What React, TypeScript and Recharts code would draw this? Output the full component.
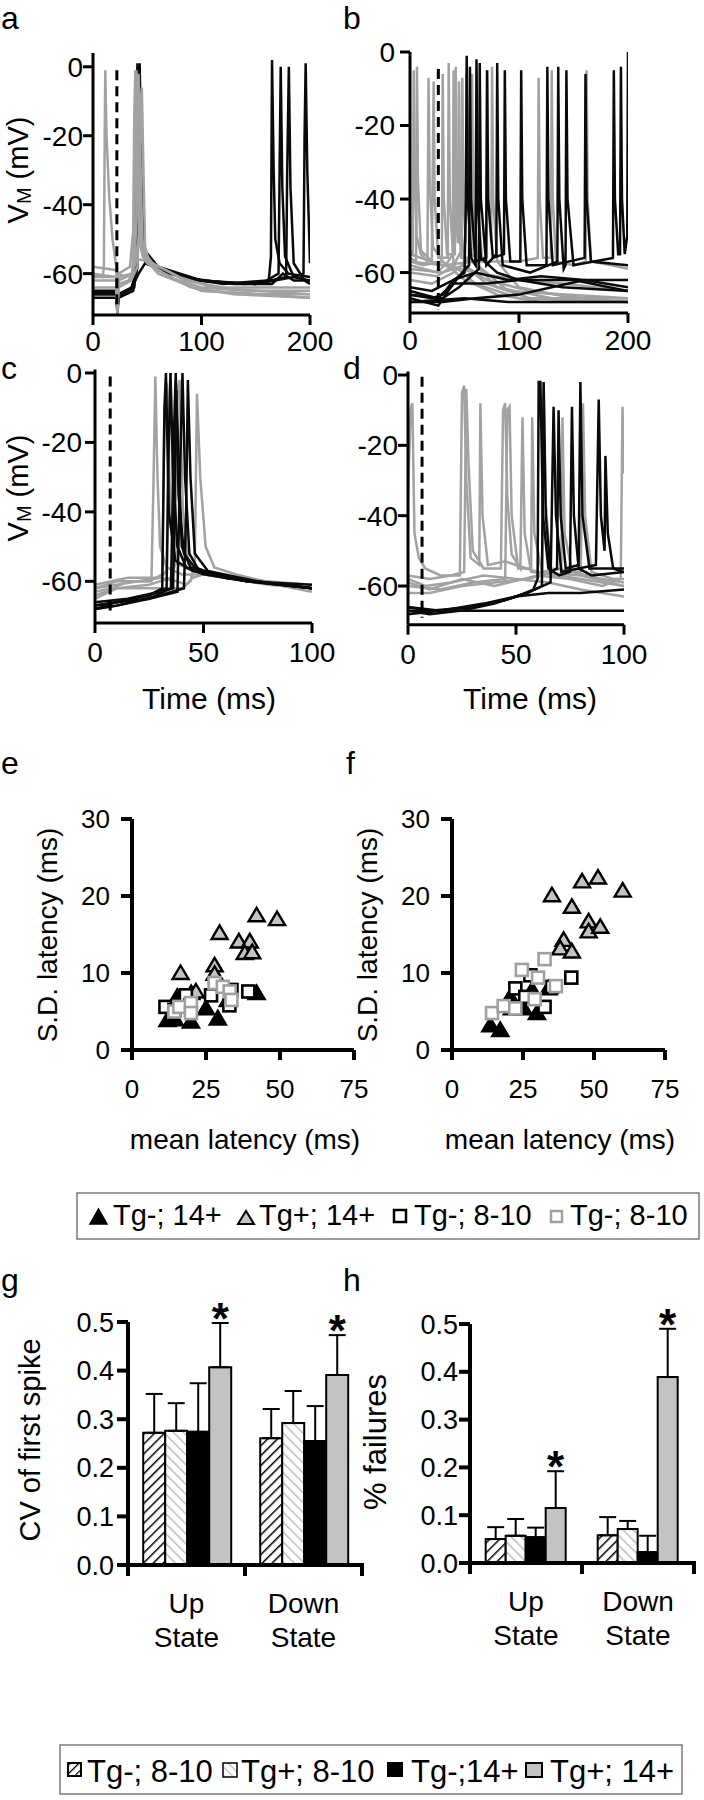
import React from 'react';
import {
  LineChart, Line, XAxis, YAxis, ReferenceLine,
  ScatterChart, Scatter, BarChart, Bar, ErrorBar, LabelList,
} from 'recharts';

const FONT = '"Liberation Sans", Arial, Helvetica, sans-serif';
const INK = '#000000';
const TRACE_BLACK = '#0a0a0a';
const TRACE_GRAY = '#a2a2a2';
const FILL_GRAY = '#c3c3c3';
const SQUARE_GRAY = '#a0a0a0';

type Trace = number[][];

// ---------------- voltage traces ----------------
const V_TICKS = [0, -20, -40, -60];
const T_TICKS_LONG = [0, 100, 200];
const T_TICKS_SHORT = [0, 50, 100];

const STIM_A = 22; const STIM_A_V = [-1, -70.5];
const STIM_B = 26; const STIM_B_V = [-4.6, -70];
const STIM_C = 7; const STIM_C_V = [-1, -69];
const STIM_D = 6.5; const STIM_D_V = [-0.5, -69];

const A_BLACK: Trace[] = [
  [[0,-66],[21.5,-66],[22.5,-72],[23.5,-67],[34,-65],[38,-62],[39.5,-40],[40.5,-5],[41,1],[42,-10],[43,-45],[45,-52],[50,-56],[70,-60],[100,-62],[140,-63],[162,-62],[164,-55],[165,2],[166.5,-30],[168,-50],[172,-57],[180,-60],[200,-61]],
  [[0,-65],[21.5,-65],[22.5,-70],[23.5,-66],[36,-64],[40,-58],[41,-20],[42,0],[43,-30],[44.5,-50],[48,-56],[80,-61],[120,-63],[160,-62],[171,-60],[172,-30],[173,0],[174.5,-35],[177,-55],[185,-61],[200,-62]],
  [[0,-67],[21.5,-67],[22.5,-70],[23.5,-67],[37,-65],[41,-58],[42,-10],[43,0],[44,-30],[46,-52],[52,-57],[90,-62],[150,-63],[178,-61],[179,-30],[180.5,0],[182,-35],[185,-57],[195,-62],[200,-63]],
  [[0,-66],[21.5,-66],[22.5,-71],[23.5,-66],[38,-64],[41,-55],[42,-5],[43,1],[44.5,-35],[47,-53],[60,-58],[100,-62],[150,-63],[185,-61],[194,-60],[195,-20],[196,1],[197.5,-30],[200,-57]],
  [[0,-65.5],[21.5,-65.5],[22.5,-69],[23.5,-66],[36,-64],[42,-60],[48,-57],[80,-61],[130,-63],[165,-63],[175,-60],[185,-62],[200,-62]],
];
const A_GRAY: Trace[] = [
  [[0,-60],[9,-61],[10,-58],[10.8,-20],[11.3,-1],[12.5,-20],[15,-38],[18,-50],[21,-57],[22,-59],[22.6,-68],[23.4,-60],[30,-61],[36,-60],[40,-56],[45,-56],[55,-57],[80,-61],[110,-64],[150,-65],[200,-66]],
  [[0,-60],[21.5,-61],[22.5,-70],[23.5,-62],[30,-61],[36,-60],[38,-50],[39,-20],[40,-1],[41.5,-20],[43,-45],[46,-55],[50,-57],[70,-61],[100,-64],[140,-65],[200,-65]],
  [[0,-62],[21.5,-62],[22.5,-72],[23.5,-63],[33,-62],[38,-58],[40,-45],[41,-15],[42,-2],[43.5,-25],[45.5,-50],[49,-56],[60,-59],[90,-64],[130,-66],[200,-67]],
  [[0,-64],[21.5,-64],[22.5,-71],[23.5,-64],[35,-62],[41,-58],[43,-40],[44,-10],[45,-6],[46.5,-30],[48,-52],[52,-57],[70,-61],[100,-65],[150,-66],[200,-67]],
  [[0,-58],[21.5,-59],[22.5,-66],[23.5,-60],[34,-58],[37,-48],[38,-15],[39,-1],[40.5,-20],[42,-44],[45,-53],[55,-57],[85,-62],[120,-64],[200,-64]],
  [[0,-61],[21.5,-61],[22.5,-68],[23.5,-61],[36,-60],[39,-56],[42,-50],[46,-55],[60,-60],[100,-65],[160,-66],[200,-66]],
];

const B_GRAY: Trace[] = [
  [[0,-54],[2.6,-55],[3.4,-5],[4.3,-30],[6,-50],[10,-55],[16,-57],[17,-7],[18,-35],[21,-53],[30,-57],[50,-62],[80,-66],[120,-68],[200,-68]],
  [[0,-56],[5.6,-57],[6.4,-4],[7.3,-35],[10,-54],[20,-57],[21.7,-8],[22.6,-40],[26,-56],[34.6,-56],[35.5,-3],[36.5,-40],[40,-58],[60,-63],[100,-67],[200,-68]],
  [[0,-58],[25,-60],[35,-57],[39.2,-55],[40,-5],[41,-40],[44,-52],[45,-8],[46,-45],[50,-58],[70,-63],[110,-67],[200,-67]],
  [[0,-60],[25,-61],[40,-58],[47.2,-54],[48,-7],[49,-40],[51,-52],[52,-6],[53,-40],[57,-57],[80,-64],[130,-67],[200,-68]],
  [[0,-62],[20,-63],[40,-60],[55,-56],[60,-55],[61,-5],[62,-40],[66,-56],[70,-56],[70.8,-5],[71.8,-40],[74.5,-52],[75.3,-4],[76.3,-40],[80,-57],[100,-64],[150,-67],[200,-68]],
  [[0,-57],[30,-58],[60,-57],[100,-57],[117.2,-56],[118,-7],[119,-40],[122,-56],[129.2,-56],[130,-5],[131,-40],[134,-57],[150,-58],[161.2,-57],[162,-5],[163,-40],[166,-57],[185,-58],[200,-59]],
  [[0,-57],[12,-58],[29.2,-57],[30,-6],[31,-40],[34,-55],[41.2,-55],[42,-4],[43,-40],[47,-56],[56.2,-56],[57,-6],[58,-40],[62,-58],[90,-65],[200,-67]],
  [[0,-55],[30,-58],[60,-60],[100,-62],[140,-63],[200,-65]],
  [[0,-59],[30,-60],[50,-58],[70,-62],[110,-65],[160,-67],[200,-67]],
];
const B_BLACK: Trace[] = [
  [[0,-66],[20,-67],[30,-66],[40,-62],[50,-60],[51.3,-40],[52,-1],[53,-40],[56,-56],[60.2,-58],[61,-2],[62,-40],[65,-56],[80,-60],[100,-62],[140,-64],[200,-65]],
  [[0,-67],[26,-69],[35,-65],[45,-61],[54.2,-58],[55,-4],[56,-40],[60,-57],[69.9,-56],[70.7,-5],[71.7,-40],[76,-56],[86.2,-55],[87,-5],[88,-40],[92,-57],[101.2,-57],[102,-5],[103,-40],[107,-58],[125.2,-58],[126,-4],[127,-40],[131,-58],[160.2,-56],[161,-6],[162,-40],[166,-57],[200,-58]],
  [[0,-66],[30,-67],[45,-64],[63.2,-59],[64,-3],[65,-40],[70,-58],[79.2,-55],[80,-3],[81,-40],[85,-58],[110,-60],[135.2,-57],[136,-4],[137,-40],[141,-59],[142.7,-58],[143.5,-5],[144.5,-40],[150,-58],[186.2,-56],[187,-5],[188,-40],[191,-55],[192.7,-55],[193.5,-4],[194.5,-40],[197,-55],[199.3,-50],[200,0]],
  [[0,-68],[30,-68],[60,-67],[100,-66],[130,-64],[160,-62],[200,-62]],
  [[0,-65],[25,-67],[40,-63],[70,-63],[100,-62],[150,-62],[200,-65]],
  [[0,-68],[50,-67],[90,-68],[130,-68],[200,-68]],
  [[0,-64],[20,-65],[40,-62],[60,-60],[90,-62],[120,-61],[160,-62],[200,-64]],
];

const C_GRAY: Trace[] = [
  [[0,-63],[8,-62],[15,-60],[26,-60],[27,-30],[27.8,-1],[28.8,-30],[30,-50],[33,-56],[40,-58],[50,-58],[70,-60],[100,-62]],
  [[0,-62],[10,-61],[20,-60],[30,-59],[33,-57],[34,-10],[34.8,0],[36,-40],[38,-55],[45,-57],[60,-59],[80,-61],[100,-62]],
  [[0,-64],[10,-62],[25,-61],[35,-59],[37,-55],[38,-5],[39,-2],[40.5,-40],[43,-55],[50,-57],[75,-60],[100,-63]],
  [[0,-65],[10,-62],[25,-62],[40,-62],[44,-60],[46,-55],[47,-6],[48.5,-30],[51,-50],[55,-56],[65,-58],[85,-61],[100,-62]],
  [[0,-62],[10,-60],[25,-60],[31,-58],[32,-12],[33,-3],[34.5,-35],[37,-54],[45,-57],[60,-59],[100,-61]],
  [[0,-61],[15,-59],[30,-59],[38,-60],[42,-61],[45,-59],[50,-58],[70,-60],[100,-62]],
];
const C_BLACK: Trace[] = [
  [[0,-68],[10,-66],[25,-64],[33,-62],[34,-20],[34.8,0],[36,-30],[38,-50],[42,-56],[50,-58],[70,-60],[100,-62]],
  [[0,-67],[10,-66],[25,-65],[35,-62],[36.5,-15],[37.2,0],[38.5,-35],[41,-52],[46,-56],[60,-59],[100,-62]],
  [[0,-68],[10,-67],[25,-65],[38,-63],[39.5,-20],[40.3,0],[41.5,-30],[43.5,-52],[48,-57],[70,-60],[100,-62]],
  [[0,-67],[10,-66],[25,-64],[31,-62],[32,-10],[32.7,0],[34,-40],[37,-54],[45,-57],[70,-60],[100,-61]],
  [[0,-68],[10,-67],[30,-64],[41,-62],[42,-40],[42.8,-2],[44,-30],[46,-52],[52,-57],[75,-60],[100,-62]],
  [[0,-66],[15,-65],[30,-63],[36,-62],[37.5,-5],[38.5,-25],[40,-50],[44,-56],[60,-59],[100,-62]],
];

const D_GRAY: Trace[] = [
  [[0,-35],[1.2,-10],[2,-8],[3,-45],[5,-52],[8,-55],[15,-57],[24,-57],[25,-5],[26,-3],[27,-30],[29,-52],[33,-54],[33.5,-8],[34.5,-40],[37,-54],[45,-53],[60,-56],[80,-57],[100,-60]],
  [[0,-57],[10,-58],[20,-57],[26,-56],[27,-4],[28,-25],[30,-50],[35,-55],[43,-55],[44,-10],[45,-8],[46,-35],[48,-51],[52,-55],[53,-12],[54,-45],[57,-56],[70,-57],[100,-60]],
  [[0,-60],[15,-61],[30,-59],[45,-58],[46,-10],[47,-9],[48,-40],[51,-55],[57,-55],[57.5,-12],[58.5,-45],[62,-56],[71,-55],[71.5,-12],[72.5,-45],[76,-56],[90,-58],[100,-59]],
  [[0,-62],[10,-62],[25,-60],[40,-59],[55,-58],[62,-57],[62.8,-3],[63.6,-35],[66,-55],[80,-56],[81,-8],[82,-40],[85,-56],[95,-58],[100,-58]],
  [[0,-59],[10,-61],[25,-58],[40,-60],[60,-57],[75,-58],[90,-60],[98.5,-58],[99.3,-9],[100,-28]],
  [[0,-58],[8,-60],[20,-59],[35,-57],[50,-58],[65,-59],[80,-61],[100,-63]],
];
const D_BLACK: Trace[] = [
  [[0,-67],[10,-68],[25,-67],[40,-65],[50,-63],[58,-61],[60,-58],[60.5,-2],[61.3,-2],[62.5,-40],[65,-55],[70,-57],[75,-56],[75.9,-9],[76.8,-40],[79,-55],[85,-57],[100,-56]],
  [[0,-66],[10,-67],[30,-66],[45,-64],[55,-62],[62,-60],[62.8,-2],[63.8,-40],[66,-56],[69,-55],[69.7,-10],[70.7,-40],[73,-55],[79,-54],[79.8,-2],[80.8,-40],[84,-55],[100,-55]],
  [[0,-68],[15,-67],[30,-66],[45,-64],[55,-62],[66,-59],[67.4,-9],[68.5,-40],[71,-56],[87,-54],[88.3,-7],[89.3,-40],[91,-50],[91.4,-23],[92.5,-45],[95,-55],[100,-56]],
  [[0,-67],[20,-67],[40,-67],[60,-67],[80,-67],[100,-67]],
  [[0,-66],[15,-67],[35,-65],[50,-63],[65,-62],[80,-62],[100,-61]],
];

// ---------------- latency scatter (mean, S.D.) ----------------
const LAT_TICKS = [0, 25, 50, 75];
const SD_TICKS = [0, 10, 20, 30];
const E_TGN_14 = [[12.0,3.9],[14.5,4.0],[15.3,6.9],[20.0,7.4],[19.9,3.7],[25.0,5.4],[29.0,4.1],[32.4,6.5],[42.1,7.4]];
const E_TGP_14 = [[16.4,10.0],[21.6,7.6],[27.9,11.0],[27.9,9.9],[29.6,15.2],[36.1,14.1],[39.8,14.1],[38.1,12.6],[40.6,12.7],[42.1,17.5],[49.0,17.0]];
const E_TGN_810 = [[11.3,5.6],[14.3,5.2],[18.2,7.1],[19.7,5.8],[26.7,7.1],[33.6,7.8],[32.9,5.8],[39.3,7.6]];
const E_TGP_810 = [[14.3,5.0],[16.0,5.6],[19.9,6.1],[19.9,4.8],[27.9,8.7],[30.7,8.2],[33.0,7.6],[33.6,6.5]];
const F_TGN_14 = [[13.5,3.2],[17.0,2.6],[20.5,6.9],[21.1,5.4],[25.2,5.4],[28.2,7.8],[29.9,4.8],[34.0,8.0]];
const F_TGP_14 = [[35.2,20.1],[45.8,21.9],[51.4,22.4],[60.1,20.7],[42.2,18.6],[48.1,16.7],[48.1,15.4],[52.2,16.0],[39.3,14.3],[38.1,13.2],[42.2,12.8]];
const F_TGN_810 = [[22.3,8.0],[27.6,9.7],[25.8,6.9],[32.6,5.6],[35.2,8.2],[42.0,9.4]];
const F_TGP_810 = [[14.1,4.8],[18.2,5.7],[22.3,5.4],[24.6,10.4],[30.3,9.4],[32.6,11.8],[29.1,6.6],[36.6,8.3]];

// ---------------- bar charts ----------------
const BAR_CATS = ['Up State', 'Down State'];
const BAR_TICKS = [0, 0.1, 0.2, 0.3, 0.4, 0.5];
const G_TGN_810 = [0.272, 0.261]; const G_TGN_810_HI = [0.352, 0.321];
const G_TGP_810 = [0.276, 0.292]; const G_TGP_810_HI = [0.333, 0.358];
const G_TGN_14 = [0.274, 0.255];  const G_TGN_14_HI = [0.374, 0.327];
const G_TGP_14 = [0.407, 0.391];  const G_TGP_14_HI = [0.498, 0.473];
const G_STAR = [true, true];
const H_TGN_810 = [0.050, 0.058]; const H_TGN_810_HI = [0.075, 0.096];
const H_TGP_810 = [0.057, 0.071]; const H_TGP_810_HI = [0.092, 0.088];
const H_TGN_14 = [0.054, 0.023];  const H_TGN_14_HI = [0.074, 0.057];
const H_TGP_14 = [0.115, 0.389];  const H_TGP_14_HI = [0.192, 0.490];
const H_STAR = [true, true];

function buildBarRows(means: number[][], his: number[][], stars: boolean[]) {
  return BAR_CATS.map((cat, i) => {
    const row: any = { cat, star: stars[i] };
    means.forEach((m, k) => {
      row[`v${k}`] = m[i];
      row[`e${k}`] = [0, his[k][i] - m[i]];
      row[`hi${k}`] = his[k][i];
    });
    return row;
  });
}
const G_ROWS = buildBarRows([G_TGN_810, G_TGP_810, G_TGN_14, G_TGP_14], [G_TGN_810_HI, G_TGP_810_HI, G_TGN_14_HI, G_TGP_14_HI], G_STAR);
const H_ROWS = buildBarRows([H_TGN_810, H_TGP_810, H_TGN_14, H_TGP_14], [H_TGN_810_HI, H_TGP_810_HI, H_TGN_14_HI, H_TGP_14_HI], H_STAR);

// ---------------- helpers ----------------
const toPoints = (tr: Trace) => tr.map(([t, v]) => ({ t, v }));
const toXY = (arr: number[][]) => arr.map(([x, y]) => ({ x, y }));
const axisStroke = (w: number) => ({ stroke: INK, strokeWidth: w });

function TracePanel(props: any) {
  const { left, top, width, height, margin, xDomain, xTicks, yDomain, stimT, stimV,
    black, gray, grayFirst, yWidth, xHeight, yTickMargin, xTickMargin } = props;
  const tickFont = { fill: INK, fontSize: 28, fontFamily: FONT };
  const blackLines = black.map((tr: Trace, i: number) => (
    <Line key={`k${i}`} name={`k${i}`} data={toPoints(tr)} dataKey="v" type="linear" stroke={TRACE_BLACK}
      strokeWidth={2.5} dot={false} activeDot={false} isAnimationActive={false} />
  ));
  const grayLines = gray.map((tr: Trace, i: number) => (
    <Line key={`g${i}`} name={`g${i}`} data={toPoints(tr)} dataKey="v" type="linear" stroke={TRACE_GRAY}
      strokeWidth={2.5} dot={false} activeDot={false} isAnimationActive={false} />
  ));
  return (
    <div style={{ position: 'absolute', left, top, width, height }}>
      <LineChart width={width} height={height} margin={margin}>
        <XAxis type="number" dataKey="t" domain={xDomain} ticks={xTicks} interval={0} allowDataOverflow
          height={xHeight} tickSize={10} tickMargin={xTickMargin} axisLine={axisStroke(3)} tickLine={axisStroke(3)} tick={tickFont} />
        <YAxis type="number" dataKey="v" domain={yDomain} ticks={V_TICKS} interval={0} allowDataOverflow
          width={yWidth} tickSize={10} tickMargin={yTickMargin} axisLine={axisStroke(3)} tickLine={axisStroke(3)} tick={tickFont} />
        {grayFirst ? grayLines : blackLines}
        {grayFirst ? blackLines : grayLines}
        <ReferenceLine segment={[{ x: stimT, y: stimV[0] }, { x: stimT, y: stimV[1] }]} stroke={INK} strokeWidth={3} strokeDasharray="10 6" />
      </LineChart>
    </div>
  );
}

const triShape = (fill: string) => (p: any) => {
  const { cx, cy } = p;
  if (cx == null || cy == null) return <g />;
  return <polygon points={`${cx},${cy - 7.5} ${cx - 8},${cy + 6} ${cx + 8},${cy + 6}`} fill={fill} stroke={INK} strokeWidth={2.4} />;
};
const squareShape = (stroke: string) => (p: any) => {
  const { cx, cy } = p;
  if (cx == null || cy == null) return <g />;
  return <rect x={cx - 6} y={cy - 6} width={12} height={12} fill="#ffffff" stroke={stroke} strokeWidth={2.6} />;
};

function ScatterPanel(props: any) {
  const { left, top, width, height, margin, groups } = props;
  const tickFont = { fill: INK, fontSize: 26, fontFamily: FONT };
  return (
    <div style={{ position: 'absolute', left, top, width, height }}>
      <ScatterChart width={width} height={height} margin={margin}>
        <XAxis type="number" dataKey="x" domain={[0, 75]} ticks={LAT_TICKS} interval={0} allowDataOverflow
          height={50} tickSize={10} tickMargin={20} axisLine={axisStroke(4)} tickLine={axisStroke(4)} tick={tickFont} />
        <YAxis type="number" dataKey="y" domain={[0, 30]} ticks={SD_TICKS} interval={0} allowDataOverflow
          width={80} tickSize={11} tickMargin={11} axisLine={axisStroke(4)} tickLine={axisStroke(4)} tick={tickFont} />
        {groups.map((g: any) => (
          <Scatter key={g.name} name={g.name} data={toXY(g.data)} shape={g.shape} isAnimationActive={false} />
        ))}
      </ScatterChart>
    </div>
  );
}

function makeCatTick(half: number, count: number) {
  return (p: any) => {
    const { x, y, payload, index } = p;
    const parts = String(payload && payload.value != null ? payload.value : '').split(' ');
    return (
      <g>
        <line x1={x - half} x2={x - half} y1={y - 2} y2={y + 11} stroke={INK} strokeWidth={4} />
        {index === count - 1 ? <line x1={x + half} x2={x + half} y1={y - 2} y2={y + 11} stroke={INK} strokeWidth={4} /> : null}
        <text x={x} y={y + 48} textAnchor="middle" fontSize={28} fontFamily={FONT} fill={INK}>{parts[0]}</text>
        <text x={x} y={y + 82} textAnchor="middle" fontSize={28} fontFamily={FONT} fill={INK}>{parts.slice(1).join(' ')}</text>
      </g>
    );
  };
}

function makeStar(rows: any[]) {
  return (p: any) => {
    const vb = p.viewBox || p;
    const x = Number(vb.x), y = Number(vb.y), w = Number(vb.width), h = Number(vb.height);
    let row = typeof p.index === 'number' ? rows[p.index] : undefined;
    if (!row) row = rows.find((r) => r.hi3 === p.value);
    if (!row || !row.star || !isFinite(h) || h <= 0) return <g />;
    const errY = y + h - row.hi3 * (h / row.v3);
    return (
      <text x={x + w / 2} y={errY + 11} textAnchor="middle" fontSize={44} fontWeight="bold" fontFamily={FONT} fill={INK}>*</text>
    );
  };
}

function BarPanel(props: any) {
  const { id, left, top, width, height, margin, rows, gap, yTickMargin } = props;
  const yWidth = 70;
  const plotW = width - margin.left - margin.right - yWidth;
  const half = plotW / (2 * rows.length);
  const tickFont = { fill: INK, fontSize: 27, fontFamily: FONT };
  const eb = (k: number) => <ErrorBar dataKey={`e${k}`} width={8.5} strokeWidth={2} stroke={INK} direction="y" />;
  return (
    <div style={{ position: 'absolute', left, top, width, height }}>
      <BarChart width={width} height={height} margin={margin} data={rows} barCategoryGap={gap} barGap={0}>
        <defs>
          <pattern id={`hb-${id}`} patternUnits="userSpaceOnUse" width={7} height={7} patternTransform="rotate(45)">
            <rect width={7} height={7} fill="#ffffff" />
            <line x1={0} y1={0} x2={0} y2={7} stroke="#000000" strokeWidth={3} />
          </pattern>
          <pattern id={`hg-${id}`} patternUnits="userSpaceOnUse" width={7} height={7} patternTransform="rotate(-45)">
            <rect width={7} height={7} fill="#ffffff" />
            <line x1={0} y1={0} x2={0} y2={7} stroke="#bdbdbd" strokeWidth={3} />
          </pattern>
        </defs>
        <XAxis dataKey="cat" type="category" interval={0} height={30} tickSize={0} tickMargin={0}
          axisLine={axisStroke(4)} tickLine={false} tick={makeCatTick(half, rows.length)} />
        <YAxis type="number" domain={[0, 0.5]} ticks={BAR_TICKS} interval={0} allowDataOverflow width={yWidth}
          tickSize={11} tickMargin={yTickMargin} tickFormatter={(v: number) => v.toFixed(1)}
          axisLine={axisStroke(4)} tickLine={axisStroke(4)} tick={tickFont} />
        <Bar dataKey="v0" fill={`url(#hb-${id})`} stroke={INK} strokeWidth={2} isAnimationActive={false}>{eb(0)}</Bar>
        <Bar dataKey="v1" fill={`url(#hg-${id})`} stroke={INK} strokeWidth={2} isAnimationActive={false}>{eb(1)}</Bar>
        <Bar dataKey="v2" fill="#000000" stroke={INK} strokeWidth={2} isAnimationActive={false}>{eb(2)}</Bar>
        <Bar dataKey="v3" fill={FILL_GRAY} stroke={INK} strokeWidth={2} isAnimationActive={false}>
          {eb(3)}
          <LabelList dataKey="hi3" content={makeStar(rows)} />
        </Bar>
      </BarChart>
    </div>
  );
}

function Overlay() {
  const t = { fontFamily: FONT, fill: INK } as any;
  const letter = (s: string, x: number, y: number) => <text x={x} y={y} fontSize={32} {...t}>{s}</text>;
  const vm = (cx: number, cy: number) => (
    <text x={cx} y={cy} transform={`rotate(-90 ${cx} ${cy})`} textAnchor="middle" dominantBaseline="central" fontSize={29} {...t}>
      V<tspan fontSize={20} dy={6}>M</tspan><tspan dy={-6}> (mV)</tspan>
    </text>
  );
  const rot = (s: string, cx: number, cy: number, fs: number) => (
    <text x={cx} y={cy} transform={`rotate(-90 ${cx} ${cy})`} textAnchor="middle" dominantBaseline="central" fontSize={fs} {...t}>{s}</text>
  );
  const mid = (s: string, cx: number, y: number, fs: number) => (
    <text x={cx} y={y} textAnchor="middle" fontSize={fs} {...t}>{s}</text>
  );
  const lt = (s: string, x: number, y: number, fs: number) => <text x={x} y={y} fontSize={fs} {...t}>{s}</text>;
  return (
    <svg width={704} height={1800} style={{ position: 'absolute', left: 0, top: 0, pointerEvents: 'none' }}>
      <defs>
        <pattern id="lg-hb" patternUnits="userSpaceOnUse" width={6} height={6} patternTransform="rotate(45)">
          <rect width={6} height={6} fill="#ffffff" />
          <line x1={0} y1={0} x2={0} y2={6} stroke="#000000" strokeWidth={2.5} />
        </pattern>
        <pattern id="lg-hg" patternUnits="userSpaceOnUse" width={6} height={6} patternTransform="rotate(-45)">
          <rect width={6} height={6} fill="#ffffff" />
          <line x1={0} y1={0} x2={0} y2={6} stroke="#bdbdbd" strokeWidth={2.5} />
        </pattern>
      </defs>
      {letter('a', 1, 29)}
      {letter('b', 343, 29)}
      {letter('c', 1, 379)}
      {letter('d', 343, 379)}
      {letter('e', 1, 774)}
      {letter('f', 346, 774)}
      {letter('g', 1, 1291)}
      {letter('h', 343, 1291)}
      {vm(18, 170)}
      {vm(18, 488)}
      {mid('Time (ms)', 209, 709, 30)}
      {mid('Time (ms)', 530, 709, 30)}
      {rot('S.D. latency (ms)', 47, 935, 28)}
      {rot('S.D. latency (ms)', 367, 935, 28)}
      {mid('mean latency (ms)', 245, 1149, 28)}
      {mid('mean latency (ms)', 560, 1149, 28)}
      {rot('CV of first spike', 30, 1440, 29)}
      {rot('% failures', 375, 1442, 31)}

      <rect x={77} y={1193} width={622} height={46} fill="none" stroke="#7a7a7a" strokeWidth={1.5} />
      <polygon points="90,1224 107,1224 98.5,1209" fill="#000000" stroke={INK} strokeWidth={1.5} />
      {lt('Tg-; 14+', 113, 1225, 29)}
      <polygon points="238,1224 254,1224 246,1211" fill={FILL_GRAY} stroke={INK} strokeWidth={2} />
      {lt('Tg+; 14+', 259, 1225, 29)}
      <rect x={394} y={1210} width={12} height={12} fill="#ffffff" stroke={INK} strokeWidth={2.5} />
      {lt('Tg-; 8-10', 414, 1225, 29)}
      <rect x={551} y={1211} width={11} height={11} fill="#ffffff" stroke={SQUARE_GRAY} strokeWidth={2.5} />
      {lt('Tg-; 8-10', 570, 1225, 29)}

      <rect x={60} y={1745} width={622} height={49} fill="none" stroke="#7a7a7a" strokeWidth={1.5} />
      <rect x={68} y={1763} width={13} height={13} fill="url(#lg-hb)" stroke={INK} strokeWidth={2} />
      {lt('Tg-; 8-10', 87, 1782, 31)}
      <rect x={223} y={1763} width={14} height={14} fill="url(#lg-hg)" stroke={INK} strokeWidth={1.5} />
      {lt('Tg+; 8-10', 241, 1782, 31)}
      <rect x={387} y={1762} width={16} height={15} fill="#000000" />
      {lt('Tg-;14+', 411, 1782, 31)}
      <rect x={526} y={1763} width={16} height={14} fill={FILL_GRAY} stroke={INK} strokeWidth={2} />
      {lt('Tg+; 14+', 550, 1782, 31)}
    </svg>
  );
}

export default function App() {
  return (
    <div style={{ position: 'absolute', left: 0, top: 0, width: 704, height: 1800, background: '#ffffff', fontFamily: FONT, overflow: 'hidden' }}>
      <BarPanel id="g" left={0} top={1260} width={380} height={440} margin={{ top: 62, right: 18, bottom: 105, left: 58 }}
        rows={G_ROWS} gap="13%" yTickMargin={3} />
      <BarPanel id="h" left={352} top={1260} width={352} height={440} margin={{ top: 64, right: 10, bottom: 107, left: 48 }}
        rows={H_ROWS} gap="14%" yTickMargin={1} />

      <ScatterPanel left={0} top={780} width={380} height={330} margin={{ top: 39, right: 26, bottom: 10, left: 52 }}
        groups={[
          { name: 'e-tgn14', data: E_TGN_14, shape: triShape('#000000') },
          { name: 'e-tgp14', data: E_TGP_14, shape: triShape(FILL_GRAY) },
          { name: 'e-tgn810', data: E_TGN_810, shape: squareShape(INK) },
          { name: 'e-tgp810', data: E_TGP_810, shape: squareShape(SQUARE_GRAY) },
        ]} />
      <ScatterPanel left={352} top={780} width={352} height={330} margin={{ top: 39, right: 39, bottom: 10, left: 20 }}
        groups={[
          { name: 'f-tgn14', data: F_TGN_14, shape: triShape('#000000') },
          { name: 'f-tgp14', data: F_TGP_14, shape: triShape(FILL_GRAY) },
          { name: 'f-tgn810', data: F_TGN_810, shape: squareShape(INK) },
          { name: 'f-tgp810', data: F_TGP_810, shape: squareShape(SQUARE_GRAY) },
        ]} />

      <TracePanel left={0} top={0} width={360} height={380} margin={{ top: 53, right: 50, bottom: 15, left: 13 }}
        xDomain={[0, 200]} xTicks={T_TICKS_LONG} yDomain={[-72, 4]} stimT={STIM_A} stimV={STIM_A_V}
        black={A_BLACK} gray={A_GRAY} grayFirst={false} yWidth={80} xHeight={50} yTickMargin={0} xTickMargin={6} />
      <TracePanel left={330} top={0} width={374} height={380} margin={{ top: 52, right: 76, bottom: 17, left: 10 }}
        xDomain={[0, 200]} xTicks={T_TICKS_LONG} yDomain={[-71, 0]} stimT={STIM_B} stimV={STIM_B_V}
        black={B_BLACK} gray={B_GRAY} grayFirst={true} yWidth={70} xHeight={50} yTickMargin={5} xTickMargin={7} />
      <TracePanel left={0} top={340} width={360} height={340} margin={{ top: 29.5, right: 48, bottom: 22, left: 15 }}
        xDomain={[0, 100]} xTicks={T_TICKS_SHORT} yDomain={[-72, 1]} stimT={STIM_C} stimV={STIM_C_V}
        black={C_BLACK} gray={C_GRAY} grayFirst={true} yWidth={80} xHeight={35} yTickMargin={3} xTickMargin={9} />
      <TracePanel left={330} top={340} width={374} height={340} margin={{ top: 31.5, right: 80, bottom: 20.3, left: 8 }}
        xDomain={[0, 100]} xTicks={T_TICKS_SHORT} yDomain={[-71, 1]} stimT={STIM_D} stimV={STIM_D_V}
        black={D_BLACK} gray={D_GRAY} grayFirst={true} yWidth={70} xHeight={35} yTickMargin={0} xTickMargin={9} />

      <Overlay />
    </div>
  );
}
